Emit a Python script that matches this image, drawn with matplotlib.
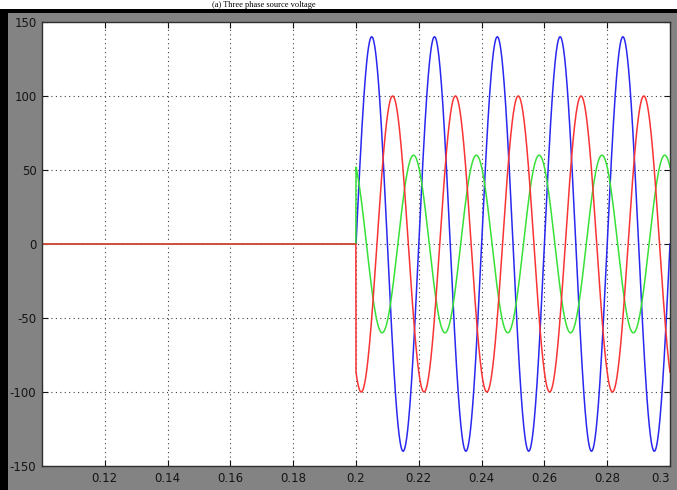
import numpy as np
import matplotlib
matplotlib.use('Agg')
import matplotlib.pyplot as plt
from matplotlib.patches import Rectangle

plt.rcParams['axes.unicode_minus'] = False

# phase voltages (switched on at t = 0.2 s)
t_on = 0.2
freq = 50.0
names = ['blue', 'green', 'red']
amplitudes = [140, 60, 100]
phases_deg = [0, 120, -120]
colors = ['#2828f0', '#38e038', '#f83434']

x_ticks = [0.12, 0.14, 0.16, 0.18, 0.2, 0.22, 0.24, 0.26, 0.28, 0.3]
x_labels = ['0.12', '0.14', '0.16', '0.18', '0.2', '0.22', '0.24', '0.26', '0.28', '0.3']
y_ticks = [-150, -100, -50, 0, 50, 100, 150]

t = np.linspace(0.1, 0.3, 4001)

fig = plt.figure(figsize=(6.77, 4.9), dpi=100, facecolor='#838383')

# white strip + black frame at top and left
fig.patches.append(Rectangle((0, 1 - 9 / 490), 1, 9 / 490, transform=fig.transFigure,
                             facecolor='white', edgecolor='none', zorder=0))
fig.patches.append(Rectangle((0, 1 - 13 / 490), 1, 4 / 490, transform=fig.transFigure,
                             facecolor='black', edgecolor='none', zorder=0))
fig.patches.append(Rectangle((0, 0), 8 / 677, 1 - 9 / 490, transform=fig.transFigure,
                             facecolor='black', edgecolor='none', zorder=0))
fig.text(0.39, 1 - 1 / 490, '(a) Three phase source voltage', ha='center', va='top',
         fontsize=6, family='Liberation Serif')

ax = fig.add_axes([42 / 677, 1 - 466 / 490, 628 / 677, 444 / 490])
ax.set_facecolor('white')

for amp, ph, c in zip(amplitudes, phases_deg, colors):
    y = np.where(t >= t_on, amp * np.sin(2 * np.pi * freq * (t - t_on) + np.deg2rad(ph)), 0.0)
    ax.plot(t, y, color=c, linewidth=1.1)

ax.set_xlim(0.1, 0.3)
ax.set_ylim(-150, 150)
ax.set_xticks(x_ticks)
ax.set_xticklabels(x_labels)
ax.set_yticks(y_ticks)
ax.tick_params(direction='in', length=4, labelsize=8.5, colors='#151515', pad=4,
               top=True, right=True)
ax.get_xticklabels()[-1].set_horizontalalignment('right')
ax.grid(True, linestyle=(0, (1, 3)), color='#404040', linewidth=0.8)
for s in ax.spines.values():
    s.set_color('#303030')
    s.set_linewidth(1.0)

fig.savefig('out.png', dpi=100, facecolor=fig.get_facecolor())
